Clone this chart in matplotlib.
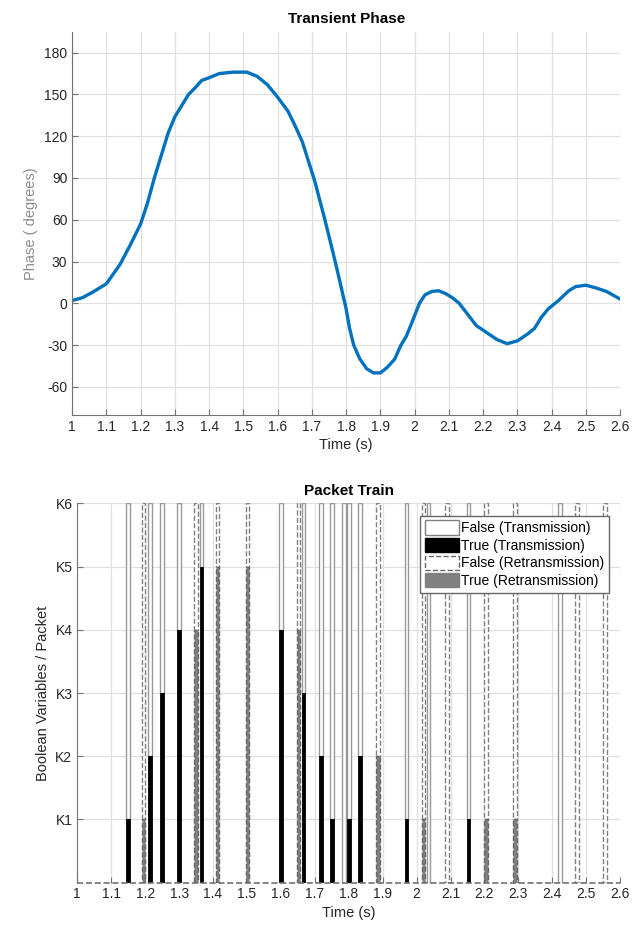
'''Transient phase and packet train (two stacked panels)'''
import numpy as np
import matplotlib.pyplot as plt
from matplotlib.patches import Patch

plt.rcParams['font.family'] = ['Liberation Sans', 'DejaVu Sans']
plt.rcParams['axes.unicode_minus'] = False

# Transient phase curve
t_phase = [1.0, 1.03, 1.06, 1.1, 1.14, 1.17, 1.2, 1.22, 1.24, 1.26, 1.28, 1.3,
           1.32, 1.34, 1.36, 1.378, 1.4, 1.43, 1.47, 1.51, 1.54, 1.57, 1.6, 1.63,
           1.65, 1.672, 1.69, 1.708, 1.738, 1.768, 1.785, 1.8, 1.81, 1.822, 1.84,
           1.86, 1.88, 1.9, 1.92, 1.942, 1.96, 1.975, 1.99, 2.014, 2.03, 2.05,
           2.07, 2.09, 2.11, 2.13, 2.155, 2.18, 2.21, 2.24, 2.27, 2.3, 2.33, 2.35,
           2.37, 2.39, 2.42, 2.45, 2.47, 2.5, 2.53, 2.56, 2.6]
phase = [2, 4, 8, 14, 28, 42, 57, 72, 90, 106, 122, 134,
         142, 150, 155, 160, 162, 165, 166, 166, 163, 157, 148, 138,
         128, 116, 102, 88, 60, 30, 12, -4, -18, -30, -40,
         -47, -50, -50, -46, -40, -30, -24, -15, 0, 6, 8.5,
         9, 7, 4, 0, -8, -16, -21, -26, -29, -27, -22, -18,
         -10, -4, 2, 9, 12, 13, 11, 8.5, 3]

# Packet train: time of packet and number of True variables (K level)
tx_time = [1.15, 1.215, 1.25, 1.30, 1.366, 1.60, 1.667, 1.718, 1.75, 1.785,
           1.80, 1.834, 1.97, 2.035, 2.153, 2.423]
tx_level = [1, 2, 3, 4, 5, 4, 3, 2, 1, 0, 1, 2, 1, 0, 1, 0]
rtx_time = [1.195, 1.35, 1.413, 1.502, 1.652, 1.887, 2.02, 2.09, 2.204, 2.29,
            2.472, 2.556]
rtx_level = [1, 4, 5, 5, 4, 2, 1, 0, 1, 1, 0, 0]

k_labels = ['K1', 'K2', 'K3', 'K4', 'K5', 'K6']
x_ticks = np.round(np.arange(1.0, 2.61, 0.1), 1)
x_labels = ['%g' % v for v in x_ticks]
n_vars = 6
bw = 0.011

fig = plt.figure(figsize=(6.44, 9.34), dpi=100)
ax1 = fig.add_axes([0.112, 0.556, 0.851, 0.41])
ax2 = fig.add_axes([0.12, 0.055, 0.843, 0.406])

tick_col = '#262626'
for ax in (ax1, ax2):
    ax.spines[['top', 'right']].set_visible(False)
    ax.spines[['left', 'bottom']].set_color('0.45')
    ax.grid(True, color='0.88', linewidth=0.9)
    ax.set_axisbelow(True)
    ax.tick_params(direction='in', length=4, colors='0.45', labelcolor=tick_col,
                   labelsize=10)
    ax.set_xlim(1, 2.6)
    ax.set_xticks(x_ticks, labels=x_labels)
    ax.set_xlabel('Time (s)', fontsize=10.5, color=tick_col, labelpad=3)

# --- top panel
ax1.plot(t_phase, phase, color='#0072BD', linewidth=2.4)
ax1.set_ylim(-80, 195)
ax1.set_yticks(np.arange(-60, 181, 30))
ax1.set_ylabel('Phase ( degrees)', fontsize=10.5, color='0.55')
ax1.set_title('Transient Phase', fontsize=11, fontweight='bold', pad=6)

# --- bottom panel
tx_level = np.array(tx_level)
rtx_level = np.array(rtx_level)
ax2.bar(tx_time, n_vars - tx_level, bw, bottom=tx_level, facecolor='white',
        edgecolor='0.6', linewidth=1.0)
ax2.bar(tx_time, tx_level, bw, facecolor='black', edgecolor='black', linewidth=0.6)
ax2.bar(rtx_time, n_vars - rtx_level, bw, bottom=rtx_level, facecolor='white',
        edgecolor='0.5', linewidth=1.0, linestyle='--')
ax2.bar(rtx_time, rtx_level, bw, facecolor='0.5', edgecolor='0.4', linewidth=1.0,
        linestyle='--')
ax2.spines['bottom'].set_visible(False)
ax2.axhline(0, color='0.45', linestyle='--', linewidth=1.2, clip_on=False)

ax2.set_ylim(0, 6)
ax2.set_yticks(np.arange(1, 7), labels=k_labels)
ax2.set_ylabel('Boolean Variables / Packet', fontsize=10.5, color=tick_col)
ax2.set_title('Packet Train', fontsize=11, fontweight='bold', pad=6)

handles = [Patch(facecolor='white', edgecolor='0.5', label='False (Transmission)'),
           Patch(facecolor='black', edgecolor='black', label='True (Transmission)'),
           Patch(facecolor='white', edgecolor='0.4', linestyle='--',
                 label='False (Retransmission)'),
           Patch(facecolor='0.5', edgecolor='0.5', label='True (Retransmission)')]
ax2.legend(handles=handles, loc='upper right', bbox_to_anchor=(0.98, 0.968),
           fontsize=10, frameon=True, fancybox=False, edgecolor='0.4',
           handlelength=2.4, handleheight=1.2, handletextpad=0.2,
           labelspacing=0.2, borderpad=0.35, borderaxespad=0.0,
           framealpha=1)

plt.savefig('out.png')
